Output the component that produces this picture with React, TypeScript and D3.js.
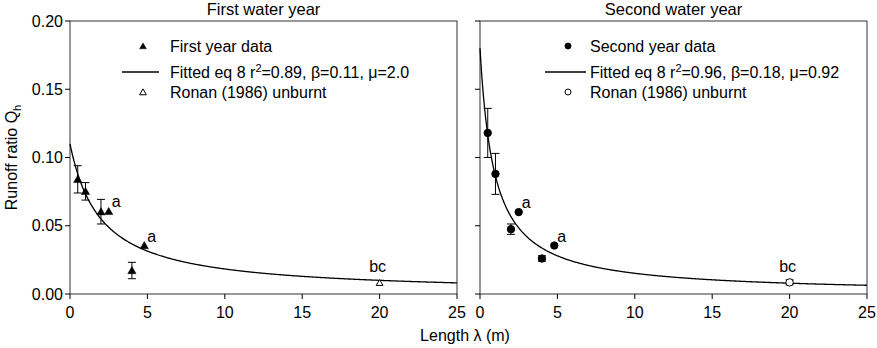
import React from "react";
import * as d3 from "d3";

// ---------- data ----------
const panelTitles = ["First water year", "Second water year"];
const xTicks = [0, 5, 10, 15, 20, 25];
const yTicks = [0.0, 0.05, 0.1, 0.15, 0.2];

const lengths1 = [0.5, 1, 2, 2.5, 4, 4.8];
const runoff1 = [0.084, 0.0752, 0.0603, 0.0605, 0.0172, 0.0355];
const err1: (number | null)[] = [0.01, 0.0064, 0.009, null, 0.006, null];
const letters1 = ["", "", "", "a", "", "a"];

const lengths2 = [0.5, 1, 2, 2.5, 4, 4.8];
const runoff2 = [0.118, 0.088, 0.0475, 0.06, 0.026, 0.0355];
const err2: (number | null)[] = [0.018, 0.015, 0.0038, null, 0.002, null];
const letters2 = ["", "", "", "a", "", "a"];

const ronanLength = 20;
const ronan1 = 0.0083;
const ronan1Err: number | null = null;
const ronan2 = 0.0085;
const ronan2Err: number | null = 0.0018;
const ronanLetter = "bc";

// fitted eq 8 parameters (Q = beta * mu / (mu + lambda))
const beta1 = 0.11;
const mu1 = 2.0;
const r2_1 = "0.89";
const beta2 = 0.18;
const mu2 = 0.92;
const r2_2 = "0.96";

const legendData1 = ["First year data", "Ronan (1986) unburnt"];
const legendData2 = ["Second year data", "Ronan (1986) unburnt"];

// ---------- layout ----------
const W = 877;
const H = 348;
const top = 21;
const bottom = 294;
const panels = [
  { x0: 70, x1: 457 },
  { x0: 480, x1: 867 },
];
const FONT = "'Liberation Sans', Arial, Helvetica, sans-serif";

const yScale = d3.scaleLinear().domain([0, 0.2]).range([bottom, top]);

const triFilled = d3.symbol().type(d3.symbolTriangle).size(30)();
const triSmall = d3.symbol().type(d3.symbolTriangle).size(20)();

function Marker({ kind, open, x, y, small }: any) {
  if (kind === "tri") {
    return (
      <path
        d={small ? triSmall : triFilled}
        transform={`translate(${x},${y + 0.8})`}
        fill={open ? "#fff" : "#000"}
        stroke="#000"
        strokeWidth={open ? 1 : 0.5}
      />
    );
  }
  return (
    <circle
      cx={x}
      cy={y}
      r={small ? 3 : 3.7}
      fill={open ? "#fff" : "#000"}
      stroke="#000"
      strokeWidth={1}
    />
  );
}

function ErrorBar({ x, yv, e, ys }: any) {
  const yt = ys(yv + e);
  const yb = ys(yv - e);
  return (
    <g stroke="#000" strokeWidth={1}>
      <line x1={x} x2={x} y1={yt} y2={yb} />
      <line x1={x - 4} x2={x + 4} y1={yt} y2={yt} />
      <line x1={x - 4} x2={x + 4} y1={yb} y2={yb} />
    </g>
  );
}

function Panel({ idx }: { idx: number }) {
  const p = panels[idx];
  const xs = d3.scaleLinear().domain([0, 25]).range([p.x0, p.x1]);
  const lengths = idx === 0 ? lengths1 : lengths2;
  const runoff = idx === 0 ? runoff1 : runoff2;
  const errs = idx === 0 ? err1 : err2;
  const letters = idx === 0 ? letters1 : letters2;
  const beta = idx === 0 ? beta1 : beta2;
  const mu = idx === 0 ? mu1 : mu2;
  const r2 = idx === 0 ? r2_1 : r2_2;
  const ronan = idx === 0 ? ronan1 : ronan2;
  const ronanErr = idx === 0 ? ronan1Err : ronan2Err;
  const legendData = idx === 0 ? legendData1 : legendData2;
  const kind = idx === 0 ? "tri" : "circ";

  const curvePts = d3.range(0, 25.001, 0.05).map((l) => [l, (beta * mu) / (mu + l)]);
  const line = d3
    .line<number[]>()
    .x((d) => xs(d[0]))
    .y((d) => yScale(d[1]))
    .curve(d3.curveLinear);

  const legX = idx === 0 ? 143 : 568;
  const legLineX0 = idx === 0 ? 122 : 545;
  const legLineX1 = idx === 0 ? 159 : 586;
  const legTextX = idx === 0 ? 170 : 590;
  const legY = [46, 72, 92];

  return (
    <g>
      <text
        x={(p.x0 + p.x1) / 2}
        y={15}
        textAnchor="middle"
        fontSize={16.5}
        fontFamily={FONT}
      >
        {panelTitles[idx]}
      </text>
      <rect
        x={p.x0}
        y={top}
        width={p.x1 - p.x0}
        height={bottom - top}
        fill="none"
        stroke="#333"
        strokeWidth={1}
      />
      {/* x ticks */}
      {xTicks.map((t) => (
        <g key={"xt" + t}>
          <line x1={xs(t)} x2={xs(t)} y1={bottom} y2={bottom + 5} stroke="#000" />
          <text
            x={xs(t)}
            y={318}
            textAnchor="middle"
            fontSize={16}
            fontFamily={FONT}
          >
            {t}
          </text>
        </g>
      ))}
      {/* y ticks */}
      {yTicks.map((t) => (
        <g key={"yt" + t}>
          <line
            x1={p.x0 - 5}
            x2={p.x0}
            y1={yScale(t)}
            y2={yScale(t)}
            stroke="#000"
          />
          {idx === 0 && (
            <text
              x={63}
              y={yScale(t) + 5.5}
              textAnchor="end"
              fontSize={16}
              fontFamily={FONT}
            >
              {t.toFixed(2)}
            </text>
          )}
        </g>
      ))}
      {/* fitted curve */}
      <path d={line(curvePts) || ""} fill="none" stroke="#000" strokeWidth={1.3} />
      {/* error bars */}
      {lengths.map((l, i) =>
        errs[i] != null ? (
          <ErrorBar key={"e" + i} x={xs(l)} yv={runoff[i]} e={errs[i]} ys={yScale} />
        ) : null
      )}
      {ronanErr != null && (
        <ErrorBar x={xs(ronanLength)} yv={ronan} e={ronanErr} ys={yScale} />
      )}
      {/* points */}
      {lengths.map((l, i) => (
        <Marker key={"m" + i} kind={kind} x={xs(l)} y={yScale(runoff[i])} />
      ))}
      <Marker kind={kind} open x={xs(ronanLength)} y={yScale(ronan)} small={kind === "tri"} />
      {/* letters */}
      {lengths.map((l, i) =>
        letters[i] ? (
          <text
            key={"l" + i}
            x={xs(l) + 3}
            y={yScale(runoff[i]) - 4}
            fontSize={16}
            fontFamily={FONT}
          >
            {letters[i]}
          </text>
        ) : null
      )}
      <text
        x={xs(ronanLength) - 2}
        y={272}
        textAnchor="middle"
        fontSize={16}
        fontFamily={FONT}
      >
        {ronanLetter}
      </text>
      {/* legend */}
      <Marker kind={kind} x={legX} y={legY[0]} small />
      <text x={legTextX} y={legY[0] + 5.5} fontSize={16} fontFamily={FONT}>
        {legendData[0]}
      </text>
      <line x1={legLineX0} x2={legLineX1} y1={legY[1]} y2={legY[1]} stroke="#000" strokeWidth={1.3} />
      <text x={legTextX} y={legY[1] + 5.5} fontSize={16} fontFamily={FONT}>
        {"Fitted eq 8 r"}
        <tspan fontSize={11} dy={-6}>
          2
        </tspan>
        <tspan dy={6}>{`=${r2}, β=${beta.toFixed(2)}, μ=${idx === 0 ? mu.toFixed(1) : mu.toFixed(2)}`}</tspan>
      </text>
      <Marker kind={kind} open x={legX} y={legY[2]} small />
      <text x={legTextX} y={legY[2] + 5.5} fontSize={16} fontFamily={FONT}>
        {legendData[1]}
      </text>
    </g>
  );
}

export default function App() {
  return (
    <svg
      width={W}
      height={H}
      style={{ display: "block", background: "#fff", position: "absolute", left: 0, top: 0 }}
    >
      <rect width={W} height={H} fill="#fff" />
      <Panel idx={0} />
      <Panel idx={1} />
      <text
        transform={`translate(17,${(top + bottom) / 2}) rotate(-90)`}
        textAnchor="middle"
        fontSize={16}
        fontFamily={FONT}
      >
        {"Runoff ratio Q"}
        <tspan fontSize={11} dy={4}>
          h
        </tspan>
      </text>
      <text x={465} y={341} textAnchor="middle" fontSize={16} fontFamily={FONT}>
        Length λ (m)
      </text>
    </svg>
  );
}
